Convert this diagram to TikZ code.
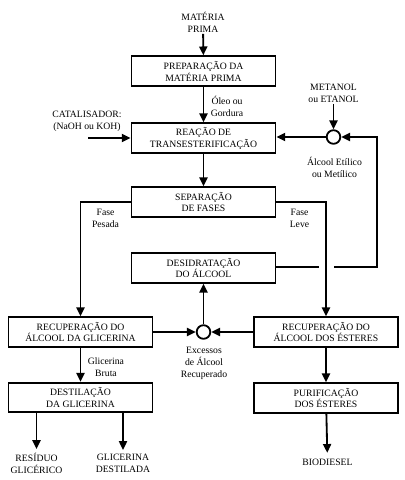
\documentclass[tikz,border=0pt]{standalone}
\usepackage{fontspec}
\setmainfont{Liberation Serif}
\usetikzlibrary{arrows.meta}
\tikzset{
  etapa/.style={draw, line width=1.3pt, minimum width=36mm, minimum height=7.4mm, align=center, inner sep=0pt},
  rotulo/.style={align=center, inner sep=1pt},
  juncao/.style={draw, circle, line width=1.3pt, minimum size=3.4mm, inner sep=0pt},
  fluxo/.style={line width=1.3pt, -{Triangle[length=2.2mm,width=2mm]}},
  linha/.style={line width=1.3pt}
}
\begin{document}
\begin{tikzpicture}[x=0.25mm,y=-0.25mm,font=\fontsize{6.9}{8.5}\selectfont]
\useasboundingbox (0,0) rectangle (405,480);
% etapas do processo
\node[etapa] (prep) at (203.5,71) {PREPARAÇÃO DA\\MATÉRIA PRIMA};
\node[etapa] (reac) at (203.5,138) {REAÇÃO DE\\TRANSESTERIFICAÇÃO};
\node[etapa] (sep) at (203.5,202) {SEPARAÇÃO\\DE FASES};
\node[etapa] (desid) at (203.5,268) {DESIDRATAÇÃO\\DO ÁLCOOL};
\node[etapa] (recg) at (80.5,332) {RECUPERAÇÃO DO\\ÁLCOOL DA GLICERINA};
\node[etapa] (rece) at (326,332) {RECUPERAÇÃO DO\\ÁLCOOL DOS ÉSTERES};
\node[etapa] (destg) at (80.5,397.5) {DESTILAÇÃO\\DA GLICERINA};
\node[etapa] (purif) at (326,398) {PURIFICAÇÃO\\DOS ÉSTERES};
\node[juncao] (j1) at (333.5,137) {};
\node[juncao] (j2) at (203.5,332) {};
% entradas, saidas e rotulos
\node[rotulo] (mp) at (203,22) {MATÉRIA\\PRIMA};
\node[rotulo] (cat) at (87,121.5) {CATALISADOR:\\(NaOH ou KOH)};
\node[rotulo] (met) at (333.5,93) {METANOL\\ou ETANOL};
\node[rotulo] (oleo) at (227,106) {Óleo ou\\Gordura};
\node[rotulo] (alc) at (334.5,167.5) {Álcool Etílico\\ou Metílico};
\node[rotulo] (fp) at (105.5,218) {Fase\\Pesada};
\node[rotulo] (fl) at (299.5,218) {Fase\\Leve};
\node[rotulo] (exc) at (204,363) {Excessos\\de Álcool\\Recuperado};
\node[rotulo] (gb) at (106,367) {Glicerina\\Bruta};
\node[rotulo, inner sep=2.5pt] (res) at (36.5,463) {RESÍDUO\\GLICÉRICO};
\node[rotulo, inner sep=2.5pt] (gd) at (123,463) {GLICERINA\\DESTILADA};
\node[rotulo, inner sep=4pt] (bio) at (327.5,462) {BIODIESEL};
\coordinate (catin) at (88,138);
\coordinate (gape) at (319,267);
\coordinate (gapd) at (334,267);
\coordinate (volta) at (377,267);
% fluxos
\draw[fluxo] (mp) -- (prep);
\draw[fluxo] (prep) -- (reac);
\draw[fluxo] (catin) -- (reac);
\draw[fluxo] (met) -- (j1);
\draw[fluxo] (j1) -- (reac.east |- j1);
\draw[fluxo] (reac) -- (sep);
\draw[fluxo] (sep.west) -| (recg);
\draw[fluxo] (sep.east) -| (rece);
\draw[linha] (desid.east |- gape) -- (gape);
\draw[fluxo] (gapd) -- (volta) |- (j1);
\draw[fluxo] (recg) -- (j2);
\draw[fluxo] (rece) -- (j2);
\draw[fluxo] (j2) -- (desid);
\draw[fluxo] (recg) -- (destg);
\draw[fluxo] (rece) -- (purif);
\draw[fluxo] (destg.south -| res) -- (res);
\draw[fluxo] (destg.south -| gd) -- (gd);
\draw[fluxo] (purif) -- (bio);
\end{tikzpicture}
\end{document}
